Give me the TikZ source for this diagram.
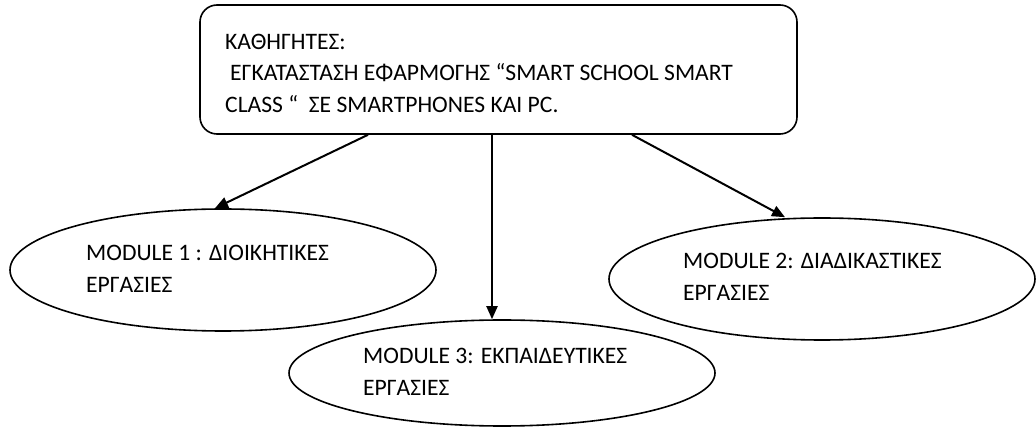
\documentclass[tikz,border=0pt]{standalone}
\usepackage{fontspec}
\setmainfont{Carlito}
\usetikzlibrary{shapes.geometric,arrows.meta,positioning}

\tikzset{
  modbox/.style={draw, ellipse, line width=1.6pt, minimum width=426pt, inner sep=0pt},
  modtext/.style={anchor=west, align=left, inner sep=0pt},
  arr/.style={-{Triangle[length=13pt,width=11pt]}, line width=2pt},
}

\begin{document}
\begin{tikzpicture}[x=1pt, y=-1pt, font=\fontsize{23.6}{31.5}\selectfont]
    \useasboundingbox (0,0) rectangle (1036,427);
    % teachers box
    \node[draw, rounded corners=17pt, line width=1.6pt, minimum width=597pt, minimum height=129pt] (teach) at (498.5,69.5) {};
    \node[modtext] (teachtxt) at (225,73) {ΚΑΘΗΓΗΤΕΣ:\\\hspace*{5pt}ΕΓΚΑΤΑΣΤΑΣΗ ΕΦΑΡΜΟΓΗΣ “SMART SCHOOL SMART\\CLASS “~~ΣΕ SMARTPHONES ΚΑΙ PC.};
    % modules
    \node[modbox, minimum height=122pt] (mod1) at (223,270) {};
    \node[modbox, minimum height=122pt] (mod2) at (822,279) {};
    \node[modbox, minimum height=106pt] (mod3) at (502,373) {};
    \node[modtext] (mod1txt) at (86,269) {MODULE 1 : ΔΙΟΙΚΗΤΙΚΕΣ\\ΕΡΓΑΣΙΕΣ};
    \node[modtext] (mod2txt) at (683,277) {MODULE 2: ΔΙΑΔΙΚΑΣΤΙΚΕΣ\\ΕΡΓΑΣΙΕΣ};
    \node[modtext] (mod3txt) at (363,372) {MODULE 3: ΕΚΠΑΙΔΕΥΤΙΚΕΣ\\ΕΡΓΑΣΙΕΣ};
    % arrows
    \draw[arr] ([xshift=-130.5pt]teach.south) -- ([xshift=-8pt]mod1.north);
    \draw[arr] ([xshift=-6.5pt]teach.south) -- ([xshift=-6.5pt]teach.south |- mod3.north);
    \draw[arr] ([xshift=133.5pt]teach.south) -- ([xshift=-37pt]mod2.north);
\end{tikzpicture}
\end{document}
